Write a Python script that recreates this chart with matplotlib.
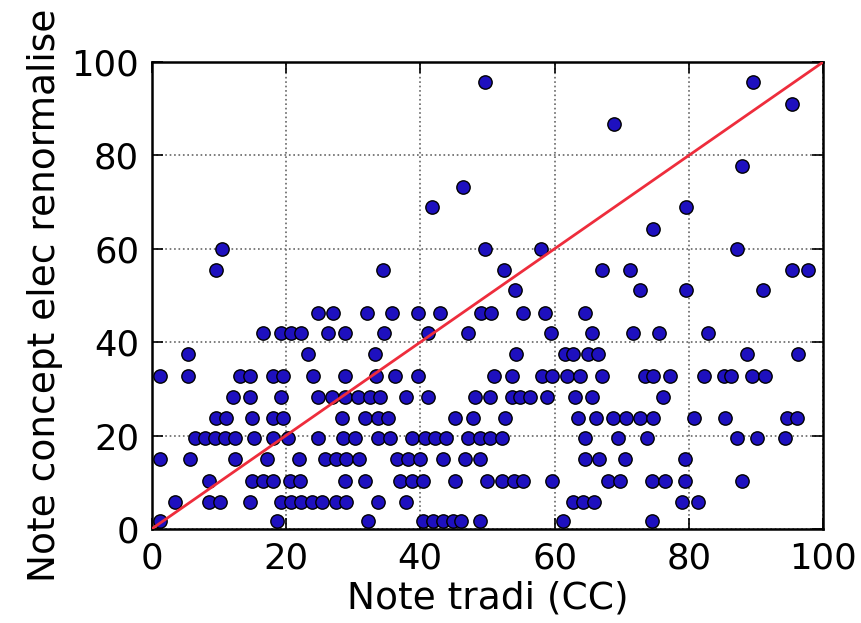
import matplotlib
matplotlib.use("Agg")
import matplotlib.pyplot as plt
import numpy as np

# Notes, regroupees par niveau de note electronique
niveaux = [1.6, 5.8, 10.3, 14.9, 19.5, 23.8, 28.3, 32.8, 37.5, 41.9, 46.3,
           51.2, 55.4, 59.9, 64.2, 68.9, 73.3, 77.7, 86.7, 91.1, 95.8]

tradi_par_niveau = [
    [1.2, 18.6, 32.2, 40.4, 41.9, 43.4, 44.9, 46.1, 48.9, 61.3, 74.5],
    [3.4, 8.6, 10.1, 14.6, 19.3, 20.8, 22.3, 23.8, 25.3, 27.5, 29.0, 33.7,
     37.9, 62.8, 64.3, 65.8, 78.9, 81.4],
    [8.6, 14.9, 16.6, 18.1, 20.6, 22.1, 28.8, 31.7, 37.0, 38.7, 40.4, 45.2,
     49.9, 52.1, 53.9, 55.3, 59.6, 68.0, 69.7, 74.5, 76.4, 79.4, 87.9],
    [1.2, 5.7, 12.4, 17.1, 22.0, 25.8, 27.5, 29.0, 30.8, 36.5, 38.2, 39.9,
     43.4, 46.6, 48.9, 64.5, 66.6, 70.5, 79.4],
    [6.4, 7.9, 9.4, 10.9, 12.4, 15.3, 18.1, 20.3, 24.8, 28.5, 30.3, 33.7,
     35.5, 38.7, 40.7, 42.2, 43.9, 47.1, 48.9, 50.4, 52.1, 64.5, 69.5, 73.7,
     87.1, 90.1, 94.3],
    [9.6, 11.1, 14.9, 18.1, 19.6, 28.3, 31.7, 33.7, 35.2, 45.2, 47.9, 52.6,
     63.5, 66.2, 68.7, 70.7, 72.7, 74.7, 80.7, 85.4, 94.6, 96.1],
    [12.1, 14.6, 19.3, 24.8, 26.8, 28.8, 30.7, 32.5, 34.0, 37.9, 41.2, 48.1,
     50.4, 53.6, 54.8, 56.3, 58.8, 63.0, 65.5, 76.2],
    [1.2, 5.4, 13.1, 14.6, 18.1, 19.6, 24.0, 28.8, 33.4, 36.2, 39.7, 50.9,
     53.6, 58.1, 59.6, 61.8, 63.8, 67.0, 73.5, 74.7, 77.2, 82.2, 85.2, 86.2,
     89.4, 91.4],
    [5.4, 23.3, 33.2, 54.3, 61.5, 62.8, 65.0, 66.5, 88.6, 96.3],
    [16.6, 19.3, 20.8, 22.3, 26.2, 28.8, 34.6, 41.2, 47.1, 59.5, 65.5, 71.7,
     75.5, 82.9],
    [24.8, 27.0, 32.0, 35.8, 39.7, 42.9, 49.1, 50.6, 55.3, 58.6, 64.5],
    [54.1, 72.7, 79.5, 91.1],
    [9.6, 34.4, 52.5, 67.0, 71.2, 95.3, 97.8],
    [10.4, 49.6, 57.9, 87.1],
    [74.6],
    [41.7, 79.5],
    [46.3],
    [87.9],
    [68.8],
    [95.3],
    [49.6, 89.5],
]

note_tradi = np.concatenate([np.array(t) for t in tradi_par_niveau])
note_elec = np.concatenate([np.full(len(t), n)
                            for n, t in zip(niveaux, tradi_par_niveau)])

plt.rcParams["font.family"] = "DejaVu Sans"
fig = plt.figure(figsize=(8.62, 6.23), dpi=100)
ax = fig.add_axes([0.176, 0.151, 0.779, 0.7495])

ax.plot(note_tradi, note_elec, "o", color="#1e10bf", markeredgecolor="k",
        markeredgewidth=1.0, markersize=9.6, zorder=3)
ax.plot([0, 100], [0, 100], color="#ee2d3c", linewidth=2, zorder=4)

ax.set_xlim(0, 100)
ax.set_ylim(0, 100)
ax.set_xticks([0, 20, 40, 60, 80, 100])
ax.set_yticks([0, 20, 40, 60, 80, 100])
ax.grid(True, linestyle=":", color="#666666", linewidth=1.2)
ax.set_axisbelow(True)
ax.tick_params(direction="in", top=True, right=True, length=8, width=1.2,
               labelsize=25.5, pad=9)
for s in ax.spines.values():
    s.set_linewidth(1.8)

ax.set_xlabel("Note tradi (CC)", fontsize=27, labelpad=4)
ax.set_ylabel("Note concept elec renormalise", fontsize=27, labelpad=6)

fig.savefig("out.png", dpi=100, facecolor="white")
